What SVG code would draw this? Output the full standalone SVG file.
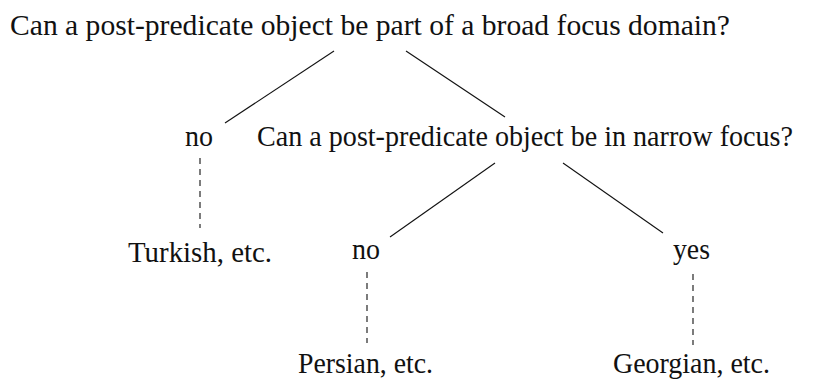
<svg xmlns="http://www.w3.org/2000/svg" width="826" height="379" viewBox="0 0 826 379">
  <style>
    text { font-family: "Liberation Serif", "DejaVu Serif", serif; font-size: 29px; fill: #111; }
    .solid { stroke: #111; stroke-width: 1.1; fill: none; }
    .dashed { stroke: #111; stroke-width: 1.1; fill: none; stroke-dasharray: 6 5; }
  </style>
  <rect width="826" height="379" fill="#fff"/>
  <g id="connectors">
    <line class="solid" x1="334" y1="51" x2="225" y2="123"/>
    <line class="solid" x1="406" y1="51" x2="505" y2="117"/>
    <line class="solid" x1="495" y1="163" x2="390" y2="237"/>
    <line class="solid" x1="563" y1="163" x2="663" y2="233"/>
    <line class="dashed" x1="200" y1="158" x2="200" y2="228"/>
    <line class="dashed" x1="367" y1="272" x2="367" y2="343"/>
    <line class="dashed" x1="693" y1="274" x2="693" y2="345"/>
  </g>
  <g id="q1"><text x="10" y="35" textLength="720" lengthAdjust="spacingAndGlyphs">Can a post-predicate object be part of a broad focus domain?</text></g>
  <g id="no1"><text x="185" y="146" textLength="28" lengthAdjust="spacingAndGlyphs">no</text></g>
  <g id="q2"><text x="257" y="146" textLength="536" lengthAdjust="spacingAndGlyphs">Can a post-predicate object be in narrow focus?</text></g>
  <g id="turkish"><text x="128" y="262" textLength="144" lengthAdjust="spacingAndGlyphs">Turkish, etc.</text></g>
  <g id="no2"><text x="352" y="259" textLength="28" lengthAdjust="spacingAndGlyphs">no</text></g>
  <g id="yes"><text x="673" y="259" textLength="37" lengthAdjust="spacingAndGlyphs">yes</text></g>
  <g id="persian"><text x="298" y="373" textLength="135" lengthAdjust="spacingAndGlyphs">Persian, etc.</text></g>
  <g id="georgian"><text x="613" y="373" textLength="157" lengthAdjust="spacingAndGlyphs">Georgian, etc.</text></g>
</svg>
